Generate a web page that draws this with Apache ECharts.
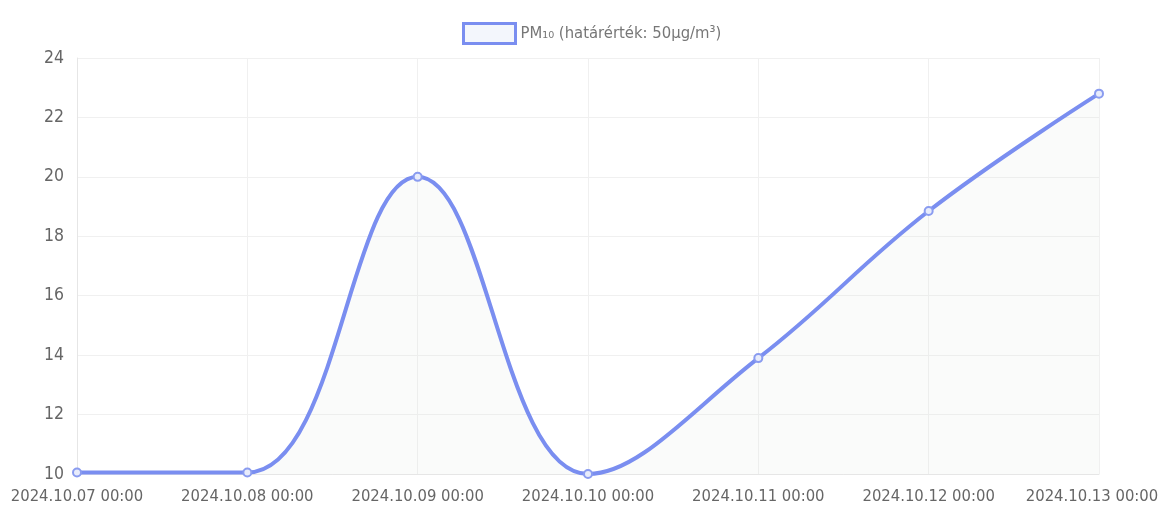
<!DOCTYPE html>
<html>
<head>
<meta charset="utf-8">
<script src="https://cdn.jsdelivr.net/npm/echarts@6/dist/echarts.min.js"></script>
<style>
  html, body { margin: 0; padding: 0; background: #fff; }
  #chart { width: 1161px; height: 522px; }
</style>
</head>
<body>
<div id="chart"></div>
<script>
// mérési időpontok
const dates = ['2024.10.07 00:00', '2024.10.08 00:00', '2024.10.09 00:00', '2024.10.10 00:00',
  '2024.10.11 00:00', '2024.10.12 00:00', '2024.10.13 00:00'];
// PM10 értékek
const pmValues = [10.05, 10.05, 20, 10, 13.9, 18.85, 22.8];
const seriesName = 'PM₁₀ (határérték: 50μg/m³)';

const font = '"DejaVu Sans Condensed", "Liberation Sans", sans-serif';

// az utolsó felirat kicsit balra tolva, hogy ne lógjon ki
const categoryData = dates.map((d, i) => i === dates.length - 1
  ? { value: d, textStyle: { padding: [0, 14, 0, 0] } }
  : d);

const chart = echarts.init(document.getElementById('chart'));
chart.setOption({
  animation: false,
  textStyle: { fontFamily: font },
  legend: {
    top: 17,
    left: 457,
    itemWidth: 52,
    itemHeight: 20,
    itemGap: 8,
    data: [{ name: seriesName, icon: 'rect' }],
    itemStyle: { color: 'rgba(235,240,250,0.6)', borderColor: '#7a8ef0', borderWidth: 3 },
    textStyle: { color: '#777', fontSize: 16.5, fontFamily: font }
  },
  grid: { left: 77, right: 62, top: 58, bottom: 48, outerBoundsMode: 'none' },
  xAxis: {
    type: 'category',
    boundaryGap: false,
    data: categoryData,
    axisLine: { show: true, lineStyle: { color: '#e6e6e6' } },
    axisTick: { show: false },
    axisLabel: { color: '#666', fontSize: 16.5, margin: 14, interval: 0, fontFamily: font },
    splitLine: { show: true, lineStyle: { color: '#f0f0f0' } }
  },
  yAxis: {
    type: 'value',
    min: 10,
    max: 24,
    interval: 2,
    axisLine: { show: true, lineStyle: { color: '#e6e6e6' } },
    axisTick: { show: false },
    axisLabel: { color: '#666', fontSize: 17.5, margin: 13, fontFamily: font },
    splitLine: { show: true, lineStyle: { color: '#f0f0f0' } }
  },
  series: [{
    name: seriesName,
    type: 'line',
    data: pmValues,
    smooth: 0.4,
    symbol: 'circle',
    symbolSize: 8,
    lineStyle: { color: '#7a8ef0', width: 4 },
    itemStyle: { color: '#e8ecfb', borderColor: '#8a9cf0', borderWidth: 2 },
    areaStyle: { color: 'rgba(225,235,225,0.25)' }
  }]
});
</script>
</body>
</html>
